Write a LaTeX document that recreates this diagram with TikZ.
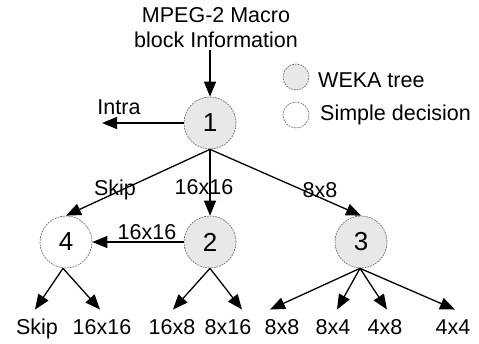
\documentclass[tikz,border=0pt]{standalone}
\usepackage{fontspec}
\setmainfont{Liberation Sans}
\usetikzlibrary{arrows.meta,calc}

\begin{document}
\begin{tikzpicture}[x=1pt,y=-1pt,
  lbl/.style={font=\fontsize{21.5}{25}\selectfont, inner sep=0pt},
  state/.style={circle, minimum size=52pt, inner sep=0pt, draw=gray!90!black,
    dash pattern=on 1.8pt off 1pt, line width=0.7pt,
    font=\fontsize{26}{30}\selectfont},
  weka/.style={state, fill=gray!18},
  simple/.style={state, fill=white},
  keyweka/.style={weka, minimum size=26pt},
  keysimple/.style={simple, minimum size=26pt},
  arr/.style={-{Triangle[length=15pt,width=12pt]}, line width=1.3pt},
  leaf/.style={lbl, text height=15.5pt, text depth=4pt, inner ysep=9pt}
]
\useasboundingbox (0,0) rectangle (479,343);

% title
\node[lbl, align=center, inner sep=2pt] (title) at (216,28) {MPEG-2 Macro\\block Information};

% decision nodes
\node[weka]   (n1) at (210,123) {1};
\node[simple] (n4) at (66,242)  {4};
\node[weka]   (n2) at (210,242) {2};
\node[weka]   (n3) at (361,242) {3};

% key
\node[keyweka]   (k1) at (296,77)  {};
\node[keysimple] (k2) at (296,115) {};
\node[lbl, anchor=west]      (kt1) at (318,80)  {WEKA tree};
\node[lbl, anchor=base west] (kt2) at (320,120) {Simple decision};

% input and intra exit
\draw[arr] (title.south -| n1) -- (n1.north);
\coordinate (intra) at (102,123);
\draw[arr] (n1.west) -- (intra);
\node[lbl] (lintra) at (119,107) {Intra};

% first level
\draw[arr] (n1.south) -- (n4.north);
\draw[arr] (n1.south) -- (n2.north);
\draw[arr] (n1.south) -- (n3.north);
\node[lbl] (lskip) at (115,190) {Skip};
\node[lbl] (l1616a) at (204,187) {16x16};
\node[lbl] (l88a) at (320,190) {8x8};

\draw[arr] (n2.west) -- (n4.east);
\node[lbl] (l1616b) at (147,232) {16x16};

% leaves
\node[leaf] (s1) at (37,328.5)  {Skip};
\node[leaf] (s2) at (102,328.5) {16x16};
\node[leaf] (s3) at (172,328.5) {16x8};
\node[leaf] (s4) at (228,328.5) {8x16};
\node[leaf] (s5) at (282,328.5) {8x8};
\node[leaf] (s6) at (333,328.5) {8x4};
\node[leaf] (s7) at (385,328.5) {4x8};
\node[leaf] (s8) at (453,328.5) {4x4};

\draw[arr] ([xshift=-3pt]n4.south) -- ([xshift=-2pt]s1.north);
\draw[arr] ([xshift=-3pt]n4.south) -- ([xshift=-2pt]s2.north);
\draw[arr] (n2.south) -- ([xshift=1pt]s3.north);
\draw[arr] (n2.south) -- ([xshift=14pt]s4.north);
\draw[arr] ([xshift=-1pt]n3.south) -- ([xshift=-12pt]s5.north);
\draw[arr] ([xshift=-1pt]n3.south) -- ([xshift=4pt]s6.north);
\draw[arr] ([xshift=-1pt]n3.south) -- ([xshift=2pt]s7.north);
\draw[arr] ([xshift=-1pt]n3.south) -- ([xshift=2pt]s8.north);
\end{tikzpicture}
\end{document}
